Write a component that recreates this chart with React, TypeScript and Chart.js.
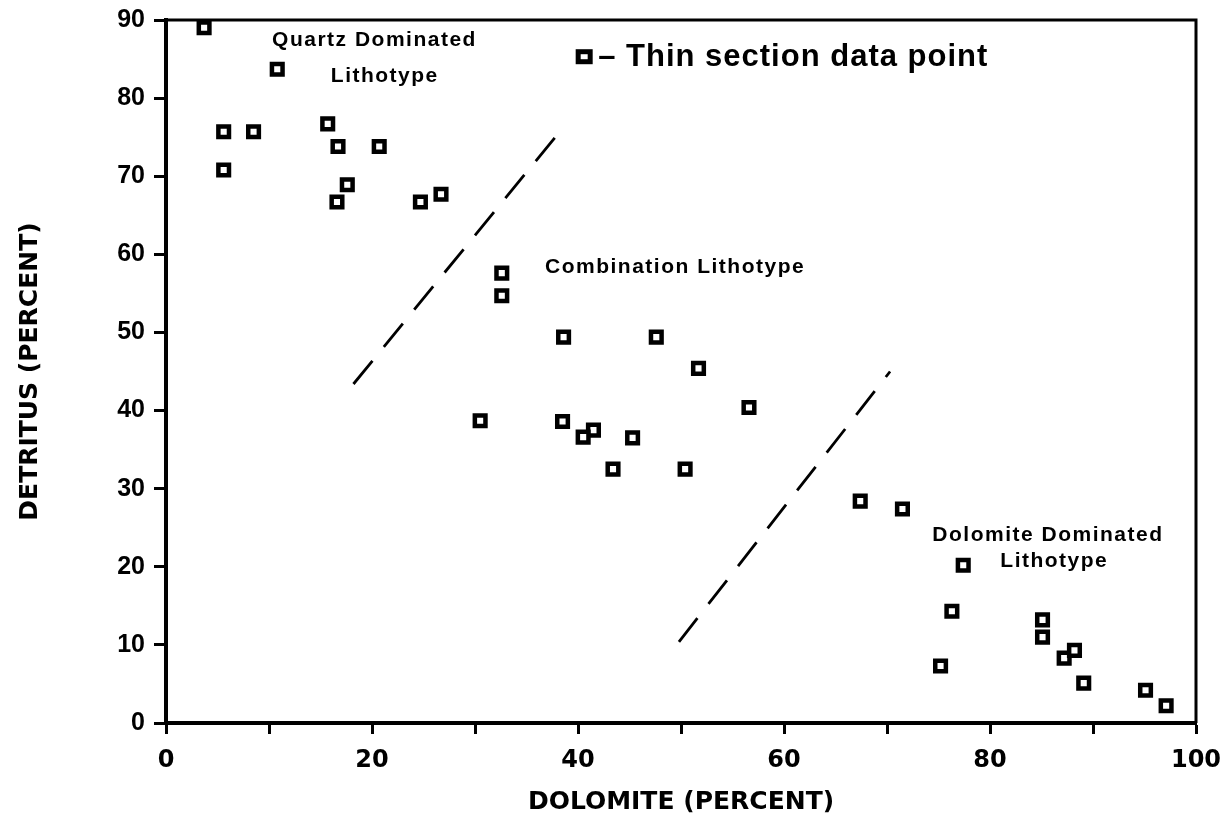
import React, { useEffect, useRef } from "react";
import { Chart, registerables } from "chart.js";

Chart.register(...registerables);

// Thin section data points
const dolomite = [
  3.7, 10.8, 5.6, 8.5, 5.6, 15.7, 16.7, 20.7, 17.6, 16.6, 24.7, 26.7,
  32.6, 32.6, 38.6, 47.6, 51.7, 56.6, 30.5, 38.5, 41.5, 40.5, 45.3, 43.4, 50.4,
  67.4, 71.5, 77.4, 76.3, 75.2, 85.1, 85.1, 87.2, 88.2, 89.1, 95.1, 97.1,
];
const detritus = [
  89.0, 83.7, 75.7, 75.7, 70.8, 76.7, 73.8, 73.8, 68.9, 66.7, 66.7, 67.7,
  57.6, 54.7, 49.4, 49.4, 45.4, 40.4, 38.7, 38.6, 37.5, 36.6, 36.5, 32.5, 32.5,
  28.4, 27.4, 20.2, 14.3, 7.3, 13.2, 11.0, 8.3, 9.3, 5.1, 4.2, 2.2,
];

// Dashed boundary lines between lithotypes
const boundary1X = [18.2, 38.1];
const boundary1Y = [43.4, 75.5];
const boundary2X = [49.8, 70.3];
const boundary2Y = [10.4, 45.0];

// Axis ticks
const xTickLabels = [0, 20, 40, 60, 80, 100];
const yTickLabels = [0, 10, 20, 30, 40, 50, 60, 70, 80, 90];

// Text annotations (data coordinates)
const noteTexts = [
  "Quartz Dominated",
  "Lithotype",
  "Combination Lithotype",
  "Dolomite Dominated",
  "Lithotype",
];
const noteX = [10.3, 16.0, 36.8, 74.4, 81.0];
const noteY = [87.4, 82.8, 58.3, 24.1, 20.7];

const legendText = "\u2013 Thin section data point";
const legendX = 40.6;
const legendY = 85.3;

const annotationPlugin = {
  id: "annotations",
  afterDatasetsDraw(chart: any) {
    const { ctx, chartArea, scales } = chart;
    const xs = scales.x;
    const ys = scales.y;
    ctx.save();
    // top & right frame
    ctx.strokeStyle = "#000";
    ctx.lineWidth = 3;
    ctx.beginPath();
    ctx.moveTo(chartArea.left, chartArea.top);
    ctx.lineTo(chartArea.right, chartArea.top);
    ctx.lineTo(chartArea.right, chartArea.bottom);
    ctx.stroke();

    // text notes
    ctx.fillStyle = "#000";
    ctx.textAlign = "left";
    ctx.textBaseline = "middle";
    ctx.font = 'bold 21px "Liberation Sans"';
    (ctx as any).letterSpacing = "1.5px";
    noteTexts.forEach((t, i) => {
      ctx.fillText(t, xs.getPixelForValue(noteX[i]), ys.getPixelForValue(noteY[i]));
    });

    // legend marker + text
    const mx = xs.getPixelForValue(legendX);
    const my = ys.getPixelForValue(legendY);
    ctx.fillStyle = "#fff";
    ctx.fillRect(mx - 6, my - 5, 12, 10);
    ctx.lineWidth = 5;
    ctx.strokeStyle = "#000";
    ctx.strokeRect(mx - 6, my - 5, 12, 10);
    ctx.fillStyle = "#000";
    ctx.font = 'bold 31px "Liberation Sans"';
    (ctx as any).letterSpacing = "1px";
    ctx.fillText(legendText, mx + 14, my + 1);
    ctx.restore();
  },
};

export default function App() {
  const canvasRef = useRef<HTMLCanvasElement | null>(null);

  useEffect(() => {
    const canvas = canvasRef.current;
    if (!canvas) return;
    const points = dolomite.map((x, i) => ({ x, y: detritus[i] }));
    const line1 = boundary1X.map((x, i) => ({ x, y: boundary1Y[i] }));
    const line2 = boundary2X.map((x, i) => ({ x, y: boundary2Y[i] }));

    const chart = new Chart(canvas, {
      type: "scatter",
      data: {
        datasets: [
          {
            label: "Thin section data point",
            data: points,
            pointStyle: "rect",
            pointRadius: 7.5,
            pointBorderWidth: 4.5,
            pointBackgroundColor: "#fff",
            pointBorderColor: "#000",
          },
          {
            label: "boundary1",
            data: line1,
            showLine: true,
            borderColor: "#000",
            borderWidth: 2.8,
            borderDash: [30, 18],
            pointRadius: 0,
          },
          {
            label: "boundary2",
            data: line2,
            showLine: true,
            borderColor: "#000",
            borderWidth: 2.8,
            borderDash: [30, 18],
            pointRadius: 0,
          },
        ],
      },
      options: {
        responsive: false,
        animation: false,
        layout: { padding: { top: 20, right: 34, left: 0, bottom: 0 } },
        plugins: {
          legend: { display: false },
          tooltip: { enabled: false },
        },
        scales: {
          x: {
            type: "linear",
            min: 0,
            max: 100,
            afterFit: (s: any) => {
              s.height = 104;
              s.paddingLeft = 0;
              s.paddingRight = 0;
            },
            ticks: {
              stepSize: 10,
              autoSkip: false,
              maxRotation: 0,
              padding: 12,
              color: "#000",
              font: { family: "DejaVu Sans", weight: "bold", size: 24 },
              callback: (v: any) => (xTickLabels.includes(Number(v)) ? String(v) : ""),
            },
            grid: {
              drawOnChartArea: false,
              drawTicks: true,
              tickLength: 11,
              tickWidth: 3,
              color: "#000",
            },
            border: { display: true, color: "#000", width: 4 },
            title: {
              display: true,
              text: "DOLOMITE (PERCENT)",
              color: "#000",
              font: { family: "DejaVu Sans", weight: "bold", size: 25 },
              padding: { top: 0, bottom: 10 },
            },
          },
          y: {
            type: "linear",
            min: 0,
            max: 90,
            afterFit: (s: any) => {
              s.width = 166;
              s.paddingTop = 0;
              s.paddingBottom = 0;
            },
            ticks: {
              stepSize: 10,
              autoSkip: false,
              padding: 9,
              color: "#000",
              font: { family: "Liberation Sans", weight: "bold", size: 25 },
              callback: (v: any) => (yTickLabels.includes(Number(v)) ? String(v) : ""),
            },
            grid: {
              drawOnChartArea: false,
              drawTicks: true,
              tickLength: 12,
              tickWidth: 3,
              color: "#000",
            },
            border: { display: true, color: "#000", width: 4 },
            title: {
              display: true,
              text: "DETRITUS (PERCENT)",
              color: "#000",
              font: { family: "DejaVu Sans", weight: "bold", size: 25 },
              padding: { top: 15, bottom: 0 },
            },
          },
        },
      },
      plugins: [annotationPlugin],
    });
    return () => chart.destroy();
  }, []);

  return (
    <div style={{ position: "absolute", left: 0, top: 0, width: 1230, height: 827, background: "#fff" }}>
      <canvas ref={canvasRef} width={1230} height={827} />
    </div>
  );
}
